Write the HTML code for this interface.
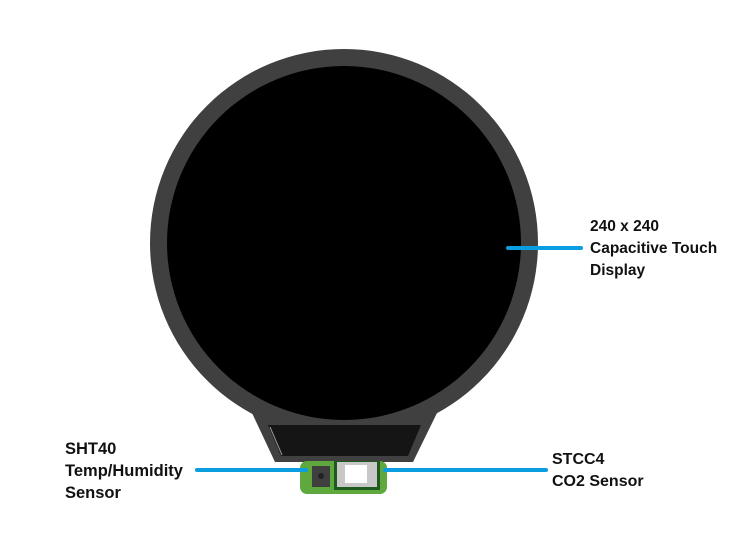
<!DOCTYPE html>
<html><head><style>
body{margin:0;background:#fff;width:747px;height:534px;overflow:hidden;position:relative;font-family:"Liberation Sans",Arial,sans-serif}
.t{position:absolute;font-weight:bold;font-size:15.5px;line-height:22px;color:#111}
</style></head><body>
<svg width="747" height="534" style="position:absolute;left:0;top:0">
<path d="M252 413 L437 413 L413 462 L275 462 Z" fill="#404040"/>
<circle cx="344" cy="243" r="194" fill="#404040"/>
<circle cx="344" cy="243" r="177" fill="#000"/>
<path d="M268 425 L421 425 L408 456 L281 456 Z" fill="#151515"/>
<line x1="270" y1="427" x2="282" y2="455" stroke="#999" stroke-width="1"/>
<rect x="300" y="461" width="87" height="33" rx="7" fill="#5fa83e"/>
<rect x="312" y="466" width="18" height="21" fill="#3f3f3f"/>
<circle cx="321" cy="476" r="3" fill="#222"/>
<rect x="334" y="461" width="46" height="29" fill="#1e5a1e"/>
<rect x="337" y="462" width="40" height="25" fill="#c8c8c8"/>
<rect x="345" y="465" width="22" height="18" fill="#fff"/>
<line x1="508" y1="248" x2="581" y2="248" stroke="#0a9ee0" stroke-width="4" stroke-linecap="round"/>
<line x1="197" y1="470" x2="306" y2="470" stroke="#0a9ee0" stroke-width="4" stroke-linecap="round"/>
<line x1="385" y1="470" x2="546" y2="470" stroke="#0a9ee0" stroke-width="4" stroke-linecap="round"/>
</svg>
<div class="t" style="left:590px;top:216px">240 x 240<br>Capacitive Touch<br>Display</div>
<div class="t" style="left:65px;top:438px;font-size:16.5px">SHT40<br>Temp/Humidity<br>Sensor</div>
<div class="t" style="left:552px;top:449px;font-size:16px">STCC4<br>CO2 Sensor</div>
</body></html>
